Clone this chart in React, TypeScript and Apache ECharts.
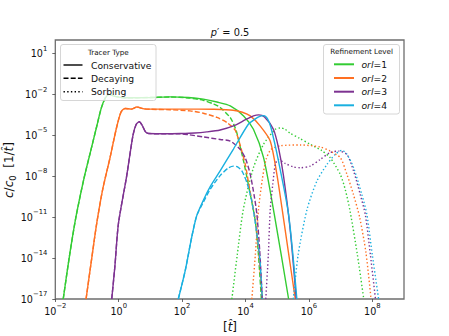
import React, { useEffect, useRef } from 'react';
import * as echarts from 'echarts';

// Axis ticks (exponents of ten)
const xTicks = [-2, 0, 2, 4, 6, 8];
const yTicks = [-17, -14, -11, -8, -5, -2, 1];

// Legend labels
const tracerTypes = ['Conservative', 'Decaying', 'Sorbing'];
const orlLevels = ['1', '2', '3', '4'];

// Curves: [log10(t), log10(c/c0)]
const orl1Conservative = [[-1.75,-17],[-1.55,-13.8],[-1.35,-11.0],[-1.1,-8.2],[-0.9,-6.3],[-0.7,-4.4],[-0.55,-3.0],[-0.42,-2.25],[-0.3,-1.99],[-0.15,-2.12],[0.2,-2.24],[1.0,-2.22],[1.62,-2.17],[2.2,-2.22],[2.67,-2.34],[3.1,-2.55],[3.52,-2.83],[3.94,-3.57],[4.25,-4.55],[4.57,-6.63],[4.91,-10.81],[5.36,-17]];
const orl1Decaying = [[-1.75,-17],[-1.55,-13.8],[-1.35,-11.0],[-1.1,-8.2],[-0.9,-6.3],[-0.7,-4.4],[-0.55,-3.0],[-0.42,-2.25],[-0.3,-1.99],[-0.15,-2.12],[0.2,-2.24],[1.0,-2.22],[1.62,-2.18],[2.2,-2.25],[2.67,-2.42],[3.0,-2.7],[3.2,-2.95],[3.52,-3.7],[3.7,-4.6],[3.83,-5.8],[3.95,-7.0],[4.09,-8.6],[4.2,-9.9],[4.31,-11.3],[4.4,-13.5],[4.5,-17]];
const orl1Sorbing = [[3.57,-17],[3.74,-13.76],[3.93,-10.44],[4.25,-7.37],[4.57,-5.65],[4.94,-4.55],[5.1,-4.45],[5.25,-4.55],[5.41,-4.85],[5.7,-5.2],[6.04,-5.65],[6.4,-6.1],[6.67,-6.63],[6.99,-7.86],[7.15,-9.0],[7.3,-10.57],[7.53,-13.76],[7.73,-17]];

const orl2Conservative = [[-1.03,-17],[-0.85,-14.0],[-0.69,-11.4],[-0.5,-8.9],[-0.27,-6.6],[-0.08,-4.55],[0.07,-3.3],[0.2,-3.02],[0.4,-3.07],[0.57,-2.92],[0.8,-3.05],[1.0,-3.07],[1.62,-3.07],[2.5,-3.07],[3.0,-3.08],[3.61,-3.15],[3.9,-3.3],[4.15,-3.57],[4.46,-4.3],[4.78,-5.41],[4.99,-7.86],[5.15,-10.32],[5.35,-13.5],[5.57,-17]];
const orl2Decaying = [[-1.03,-17],[-0.85,-14.0],[-0.69,-11.4],[-0.5,-8.9],[-0.27,-6.6],[-0.08,-4.55],[0.07,-3.3],[0.2,-3.02],[0.4,-3.07],[0.57,-2.92],[0.8,-3.05],[1.0,-3.08],[1.62,-3.12],[2.25,-3.2],[2.67,-3.37],[3.1,-3.68],[3.41,-4.05],[3.67,-4.6],[3.83,-5.7],[4.0,-7.2],[4.09,-8.4],[4.2,-9.8],[4.31,-11.2],[4.42,-13.6],[4.53,-17]];
const orl2Sorbing = [[4.2,-17],[4.31,-13.76],[4.41,-10.44],[4.53,-8.23],[4.65,-6.76],[4.81,-6.02],[5.1,-5.76],[5.73,-5.7],[6.36,-5.85],[6.67,-6.15],[6.99,-6.63],[7.2,-7.86],[7.4,-9.3],[7.6,-11.0],[7.8,-13.6],[7.96,-17]];

const orl3Conservative = [[-0.22,-17],[-0.12,-14.6],[-0.01,-11.5],[0.25,-8.0],[0.45,-5.0],[0.55,-4.2],[0.65,-4.0],[0.75,-4.3],[0.85,-4.75],[0.95,-4.86],[1.5,-4.88],[1.94,-4.86],[2.4,-4.82],[2.78,-4.74],[3.2,-4.6],[3.62,-4.3],[4.0,-3.85],[4.25,-3.57],[4.42,-3.49],[4.6,-3.65],[4.88,-4.55],[5.05,-6.0],[5.2,-7.99],[5.41,-11.92],[5.6,-17]];
const orl3Decaying = [[-0.22,-17],[-0.12,-14.6],[-0.01,-11.5],[0.25,-8.0],[0.45,-5.0],[0.55,-4.2],[0.65,-4.0],[0.75,-4.3],[0.85,-4.75],[0.95,-4.86],[1.5,-4.88],[1.94,-4.88],[2.2,-4.95],[2.67,-5.11],[3.2,-5.3],[3.52,-5.41],[3.83,-6.02],[4.0,-6.7],[4.15,-7.86],[4.28,-9.5],[4.36,-10.81],[4.45,-13.5],[4.53,-17]];
const orl3Sorbing = [[4.64,-17],[4.72,-13.76],[4.78,-10.44],[4.86,-8.6],[4.94,-7.13],[5.03,-6.76],[5.25,-7.05],[5.5,-7.3],[5.73,-7.37],[6.04,-7.25],[6.36,-6.76],[6.67,-6.26],[6.94,-6.15],[7.2,-6.39],[7.41,-7.62],[7.62,-9.34],[7.78,-10.81],[7.94,-13.76],[8.1,-17]];

const orl4Conservative = [[1.88,-17],[2.1,-14.9],[2.3,-12.5],[2.46,-10.9],[2.67,-9.75],[2.9,-8.7],[3.2,-7.6],[3.62,-6.0],[4.09,-4.18],[4.3,-3.8],[4.45,-3.6],[4.58,-3.55],[4.7,-3.8],[4.8,-4.4],[5.03,-6.76],[5.36,-10.81],[5.62,-17]];
const orl4Decaying = [[1.88,-17],[2.1,-14.9],[2.3,-12.5],[2.46,-10.9],[2.67,-9.9],[2.9,-8.9],[3.2,-7.95],[3.45,-7.4],[3.62,-7.25],[3.75,-7.3],[3.89,-7.62],[4.05,-8.5],[4.2,-9.83],[4.34,-11.9],[4.45,-14.0],[4.53,-17]];
const orl4Sorbing = [[5.51,-17],[5.66,-13.76],[5.94,-10.44],[6.25,-8.36],[6.57,-7.13],[6.83,-6.39],[7.04,-6.09],[7.2,-6.39],[7.41,-7.37],[7.67,-9.34],[7.83,-10.81],[8.0,-13.76],[8.2,-17]];

const COLORS = ['#33cc33', '#ff7022', '#7d3291', '#1ab0e0'];
const DASHES: any[] = ['solid', [5, 2.2], [1.4, 2.3]];
const FONT = 'DejaVu Sans';

const curveSets = [
  [orl1Conservative, orl1Decaying, orl1Sorbing],
  [orl2Conservative, orl2Decaying, orl2Sorbing],
  [orl3Conservative, orl3Decaying, orl3Sorbing],
  [orl4Conservative, orl4Decaying, orl4Sorbing],
];

const supText = (v: number) => `{b|10}{s|${v < 0 ? '\u2212' + Math.abs(v) : v}}`;

const tickRich = {
  b: { fontSize: 9.6, lineHeight: 17, fontFamily: FONT, color: '#111' },
  s: { fontSize: 6.8, verticalAlign: 'top', fontFamily: FONT, color: '#111' },
};

export default function App() {
  const ref = useRef<HTMLDivElement>(null);
  useEffect(() => {
    if (!ref.current) return;
    const chart = echarts.init(ref.current, undefined, { renderer: 'svg' });

    const series: any[] = [];
    curveSets.forEach((set, ci) => {
      set.forEach((data, ti) => {
        series.push({
          type: 'line',
          name: `orl=${orlLevels[ci]} ${tracerTypes[ti]}`,
          data,
          showSymbol: false,
          smooth: 0.25,
          clip: true,
          lineStyle: { color: COLORS[ci], width: 1.4, type: DASHES[ti] },
          z: 2,
        });
      });
    });

    const graphic: any[] = [];
    // Title
    graphic.push({
      type: 'text', x: 230, y: 32.5, z: 10,
      style: {
        text: '{i|p}\u2032 = 0.5', font: `9.8px ${FONT}`, fill: '#111',
        align: 'center', verticalAlign: 'middle', textAlign: 'center', textVerticalAlign: 'middle',
        rich: { i: { fontStyle: 'italic', fontSize: 9.8, fontFamily: FONT, fill: '#111' } },
      },
    });
    // Y label
    graphic.push({
      type: 'text', x: 8.5, y: 170, rotation: Math.PI / 2, z: 10,
      style: {
        text: '{i|c}/{i|c}{sub|0}  [1/{i|t\u0302}]', font: `12px ${FONT}`, fill: '#111',
        align: 'center', verticalAlign: 'middle', textAlign: 'center', textVerticalAlign: 'middle',
        rich: {
          i: { fontStyle: 'italic', fontSize: 12, fontFamily: FONT, fill: '#111', lineHeight: 16 },
          sub: { fontSize: 8.4, fontFamily: FONT, fill: '#111', verticalAlign: 'bottom', lineHeight: 16 },
        },
      },
    });
    // X label
    graphic.push({
      type: 'text', x: 230, y: 326.5, z: 10,
      style: {
        text: '[{i|t\u0302}]', font: `12px ${FONT}`, fill: '#111',
        align: 'center', verticalAlign: 'middle', textAlign: 'center', textVerticalAlign: 'middle',
        rich: { i: { fontStyle: 'italic', fontSize: 12, fontFamily: FONT, fill: '#111' } },
      },
    });

    // Left legend (tracer type)
    graphic.push({
      type: 'rect', z: 20, shape: { x: 60.5, y: 44.5, width: 95.5, height: 56, r: 2.5 },
      style: { fill: 'rgba(255,255,255,0.8)', stroke: '#cccccc', lineWidth: 0.8 },
    });
    graphic.push({
      type: 'text', x: 108.3, y: 52, z: 21,
      style: { text: 'Tracer Type', font: `7.2px ${FONT}`, fill: '#111', align: 'center', verticalAlign: 'middle', textAlign: 'center', textVerticalAlign: 'middle' },
    });
    const leftRows = [65, 78.3, 91.7];
    tracerTypes.forEach((t, i) => {
      const dash = DASHES[i] === 'solid' ? null : DASHES[i];
      graphic.push({
        type: 'line', z: 21, shape: { x1: 63.5, y1: leftRows[i], x2: 82.5, y2: leftRows[i] },
        style: { stroke: '#000', lineWidth: 1.4, lineDash: dash },
      });
      graphic.push({
        type: 'text', x: 91, y: leftRows[i], z: 21,
        style: { text: t, font: `9.2px ${FONT}`, fill: '#111', align: 'left', verticalAlign: 'middle', textAlign: 'left', textVerticalAlign: 'middle' },
      });
    });

    // Right legend (refinement level)
    graphic.push({
      type: 'rect', z: 20, shape: { x: 323.5, y: 44.5, width: 76, height: 69.5, r: 2.5 },
      style: { fill: 'rgba(255,255,255,0.8)', stroke: '#cccccc', lineWidth: 0.8 },
    });
    graphic.push({
      type: 'text', x: 361.7, y: 51, z: 21,
      style: { text: 'Refinement Level', font: `7.2px ${FONT}`, fill: '#111', align: 'center', verticalAlign: 'middle', textAlign: 'center', textVerticalAlign: 'middle' },
    });
    const rightRows = [64.3, 78, 91.7, 105.3];
    orlLevels.forEach((l, i) => {
      graphic.push({
        type: 'line', z: 21, shape: { x1: 334, y1: rightRows[i], x2: 354, y2: rightRows[i] },
        style: { stroke: COLORS[i], lineWidth: 2 },
      });
      graphic.push({
        type: 'text', x: 361.5, y: rightRows[i], z: 21,
        style: {
          text: `{i|orl}=${l}`, font: `9.2px ${FONT}`, fill: '#111',
          align: 'left', verticalAlign: 'middle', textAlign: 'left', textVerticalAlign: 'middle',
          rich: { i: { fontStyle: 'italic', fontSize: 9.2, fontFamily: FONT, fill: '#111' } },
        },
      });
    });

    chart.setOption({
      animation: false,
      backgroundColor: '#ffffff',
      grid: {
        left: 55.3, right: 45, top: 40, bottom: 37,
        show: true, borderColor: '#6e6e6e', borderWidth: 1.3, backgroundColor: 'transparent',
      },
      xAxis: {
        type: 'value', min: -2, max: 9,
        axisLine: { show: false, onZero: false },
        splitLine: { show: false },
        axisTick: { show: true, customValues: xTicks, length: 3, lineStyle: { color: '#444', width: 0.8 } },
        axisLabel: {
          customValues: xTicks, margin: 3.5,
          formatter: (v: number) => supText(Math.round(v)),
          rich: tickRich,
        },
      },
      yAxis: {
        type: 'value', min: -17, max: 2,
        axisLine: { show: false, onZero: false },
        splitLine: { show: false },
        axisTick: { show: true, customValues: yTicks, length: 3, lineStyle: { color: '#444', width: 0.8 } },
        axisLabel: {
          customValues: yTicks, margin: 8,
          formatter: (v: number) => supText(Math.round(v)),
          rich: tickRich,
        },
      },
      series,
      graphic,
    });
    return () => chart.dispose();
  }, []);
  return (
    <div
      ref={ref}
      style={{ position: 'fixed', left: 0, top: 0, width: 449, height: 336, background: '#fff' }}
    />
  );
}
